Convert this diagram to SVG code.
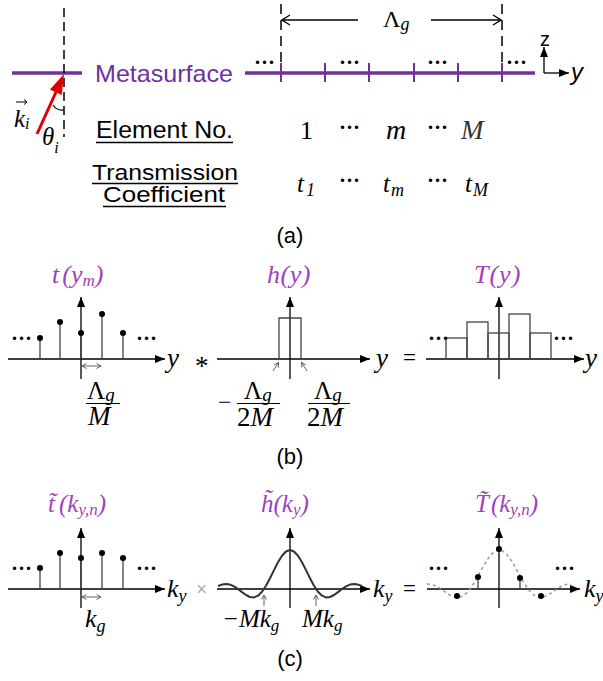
<svg xmlns="http://www.w3.org/2000/svg" width="603" height="681" viewBox="0 0 603 681">
<style>
.ax{stroke:#000;stroke-width:1.3;fill:none}
.st{stroke:#444;stroke-width:1.3}
.dot{fill:#000}
.thin{stroke:#555;stroke-width:0.9;fill:none}
.ms{stroke:#7030a0;fill:none}
.m{font-family:"Liberation Serif","Times New Roman",serif;font-style:italic;fill:#000}
.r{font-family:"Liberation Serif","Times New Roman",serif;fill:#000}
.s{font-family:"Liberation Sans",Arial,sans-serif;fill:#000}
.pl{fill:#a23fbf}
.dd{font-family:"Liberation Serif",serif;font-weight:bold;font-size:21px;fill:#000}
</style>
<defs>
<marker id="ah" markerUnits="userSpaceOnUse" markerWidth="11" markerHeight="8" refX="10" refY="4" orient="auto"><path d="M0,0 L10,4 L0,8 z" fill="#000"/></marker>
<marker id="oh" markerUnits="userSpaceOnUse" markerWidth="10" markerHeight="12" refX="9" refY="6" orient="auto"><path d="M1,1 L9,6 L1,11" fill="none" stroke="#000" stroke-width="1.3"/></marker>
<marker id="sh" markerUnits="userSpaceOnUse" markerWidth="6" markerHeight="6" refX="5" refY="3" orient="auto-start-reverse"><path d="M0.5,0.5 L5,3 L0.5,5.5" fill="none" stroke="#555" stroke-width="0.9"/></marker>
</defs>

<g id="panel-a">
  <line x1="12" y1="73" x2="82" y2="73" class="ms" stroke-width="3.5"/>
  <line x1="64" y1="8" x2="64" y2="137" stroke="#000" stroke-width="1.5" stroke-dasharray="9 5"/>
  <line x1="37" y1="134" x2="56" y2="92" stroke="#e00000" stroke-width="3"/>
  <polygon points="64,74 61.7,94.9 49.9,89.5" fill="#e00000"/>
  <path d="M53,105 Q57,111 64,110" fill="none" stroke="#000" stroke-width="1.2"/>
  <text class="m" x="14" y="127" font-size="25">k<tspan font-size="16" dy="2">i</tspan></text>
  <path d="M16,102 L27,102 M24,99.5 L27,102 L24,104.5" fill="none" stroke="#000" stroke-width="1"/>
  <text class="m" x="42" y="145" font-size="25">θ<tspan font-size="16" dy="8">i</tspan></text>
  <text class="s" x="95" y="82" font-size="24" style="fill:#7030a0" textLength="138" lengthAdjust="spacingAndGlyphs">Metasurface</text>
  <line x1="245" y1="73" x2="535" y2="73" class="ms" stroke-width="3.5"/>
  <path d="M281,63 V82 M325,63 V82 M369,63 V82 M414,63 V82 M458,63 V82 M502,63 V82" class="ms" stroke-width="2"/>
  <line x1="281" y1="4" x2="281" y2="63" stroke="#000" stroke-width="1.5" stroke-dasharray="10 6"/>
  <line x1="502" y1="4" x2="502" y2="63" stroke="#000" stroke-width="1.5" stroke-dasharray="10 6"/>
  <line x1="358" y1="20" x2="282" y2="20" stroke="#000" stroke-width="1.3" marker-end="url(#oh)"/>
  <line x1="431" y1="20" x2="501" y2="20" stroke="#000" stroke-width="1.3" marker-end="url(#oh)"/>
  <text class="r" x="383" y="27" font-size="24">Λ<tspan class="m" font-size="18" dy="3">g</tspan></text>
  <text class="dd" x="254" y="69">···</text>
  <text class="dd" x="339" y="69">···</text>
  <text class="dd" x="427" y="69">···</text>
  <text class="dd" x="506" y="69">···</text>
  <line x1="544" y1="73" x2="544" y2="47" class="ax" stroke-width="1.5" marker-end="url(#ah)"/>
  <line x1="544" y1="73" x2="569" y2="73" class="ax" stroke-width="1.5" marker-end="url(#ah)"/>
  <text class="s" x="545" y="46" font-size="20" text-anchor="middle">z</text>
  <text class="s" x="571" y="80" font-size="24" font-style="italic">y</text>
  <text class="s" x="96" y="138" font-size="23" textLength="137" lengthAdjust="spacingAndGlyphs">Element No.</text>
  <line x1="96" y1="142.5" x2="233" y2="142.5" stroke="#000" stroke-width="1.3"/>
  <text class="s" x="92" y="180" font-size="22" textLength="146" lengthAdjust="spacingAndGlyphs">Transmission</text>
  <line x1="92" y1="183.5" x2="238" y2="183.5" stroke="#000" stroke-width="1.3"/>
  <text class="s" x="103" y="202" font-size="22" textLength="122" lengthAdjust="spacingAndGlyphs">Coefficient</text>
  <line x1="103" y1="206.5" x2="226" y2="206.5" stroke="#000" stroke-width="1.3"/>
  <text class="r" x="300" y="139" font-size="26">1</text>
  <text class="dd" x="339" y="134">···</text>
  <text class="m" x="386" y="139" font-size="28">m</text>
  <text class="dd" x="427" y="134">···</text>
  <text class="m" x="461" y="139" font-size="27" style="fill:#333">M</text>
  <text class="m" x="297" y="192" font-size="25">t<tspan font-size="18" dy="4" dx="2">1</tspan></text>
  <text class="dd" x="339" y="187">···</text>
  <text class="m" x="383" y="192" font-size="25">t<tspan font-size="18" dy="4" dx="1">m</tspan></text>
  <text class="dd" x="427" y="187">···</text>
  <text class="m" x="465" y="192" font-size="25">t<tspan font-size="18" dy="4" dx="1">M</tspan></text>
  <text class="s" x="290" y="243" font-size="22" text-anchor="middle">(a)</text>
</g>

<g id="panel-b">
  <g id="b-samples">
    <line x1="8" y1="359" x2="165" y2="359" class="ax" marker-end="url(#ah)"/>
    <line x1="81" y1="379" x2="81" y2="297" class="ax" marker-end="url(#ah)"/>
    <path d="M40,359 V338 M60,359 V322 M81,359 V333 M102,359 V314 M123,359 V333" class="st"/>
    <circle cx="40" cy="338" r="3" class="dot"/><circle cx="60" cy="322" r="3" class="dot"/><circle cx="81" cy="333" r="3" class="dot"/><circle cx="102" cy="314" r="3" class="dot"/><circle cx="123" cy="333" r="3" class="dot"/>
    <text class="dd" x="11" y="345">···</text>
    <text class="dd" x="136" y="345">···</text>
    <line x1="82" y1="366" x2="101" y2="366" class="thin" marker-start="url(#sh)" marker-end="url(#sh)"/>
    <text class="m pl" x="52" y="283" font-size="26">t<tspan dx="3">(</tspan>y<tspan font-size="17" dy="3">m</tspan><tspan dy="-3">)</tspan></text>
    <text class="m" x="167" y="367" font-size="27">y</text>
    <text class="r" x="87" y="399" font-size="25">Λ<tspan class="m" font-size="19" dy="2">g</tspan></text>
    <line x1="86" y1="403.5" x2="120" y2="403.5" stroke="#000" stroke-width="1.2"/>
    <text class="m" x="88" y="425" font-size="27">M</text>
  </g>
  <text class="r" x="195" y="375" font-size="27">*</text>
  <g id="b-rect">
    <line x1="217" y1="359" x2="370" y2="359" class="ax" marker-end="url(#ah)"/>
    <line x1="290" y1="379" x2="290" y2="297" class="ax" marker-end="url(#ah)"/>
    <path d="M279,359 V318 H301 V359" class="st" fill="none"/>
    <line x1="273" y1="371" x2="278.5" y2="362.5" class="thin" marker-end="url(#sh)"/>
    <line x1="307" y1="371" x2="301.5" y2="362.5" class="thin" marker-end="url(#sh)"/>
    <text class="m pl" x="267" y="283" font-size="26" letter-spacing="0.5">h(y)</text>
    <text class="m" x="376" y="367" font-size="27">y</text>
    <text class="r" x="218" y="410" font-size="24">−</text>
    <text class="r" x="244" y="399" font-size="25">Λ<tspan class="m" font-size="19" dy="2">g</tspan></text>
    <line x1="237" y1="403.5" x2="280" y2="403.5" stroke="#000" stroke-width="1.2"/>
    <text class="r" x="237" y="426" font-size="27">2<tspan class="m">M</tspan></text>
    <text class="r" x="314" y="399" font-size="25">Λ<tspan class="m" font-size="19" dy="2">g</tspan></text>
    <line x1="308" y1="403.5" x2="350" y2="403.5" stroke="#000" stroke-width="1.2"/>
    <text class="r" x="307" y="426" font-size="27">2<tspan class="m">M</tspan></text>
  </g>
  <text class="r" x="403" y="365" font-size="23">=</text>
  <g id="b-stairs">
    <line x1="426" y1="359" x2="584" y2="359" class="ax" marker-end="url(#ah)"/>
    <line x1="499" y1="379" x2="499" y2="297" class="ax" marker-end="url(#ah)"/>
    <g class="st" fill="none">
      <rect x="446" y="338" width="21" height="21"/><rect x="467" y="322" width="21" height="37"/><rect x="488" y="333" width="21" height="26"/><rect x="509" y="314" width="21" height="45"/><rect x="530" y="333" width="21" height="26"/>
    </g>
    <text class="dd" x="428" y="345">···</text>
    <text class="dd" x="553" y="345">···</text>
    <text class="m pl" x="474" y="283" font-size="26" letter-spacing="1">T(y)</text>
    <text class="m" x="585" y="367" font-size="27">y</text>
  </g>
  <text class="s" x="290" y="464" font-size="22" text-anchor="middle">(b)</text>
</g>

<g id="panel-c">
  <g id="c-samples">
    <line x1="8" y1="589" x2="165" y2="589" class="ax" marker-end="url(#ah)"/>
    <line x1="81" y1="608" x2="81" y2="528" class="ax" marker-end="url(#ah)"/>
    <path d="M40,589 V568 M60,589 V553 M81,589 V558 M102,589 V553 M123,589 V558" class="st"/>
    <circle cx="40" cy="568" r="3" class="dot"/><circle cx="60" cy="553" r="3" class="dot"/><circle cx="81" cy="558" r="3" class="dot"/><circle cx="102" cy="553" r="3" class="dot"/><circle cx="123" cy="558" r="3" class="dot"/>
    <text class="dd" x="11" y="575">···</text>
    <text class="dd" x="136" y="575">···</text>
    <line x1="82" y1="597" x2="101" y2="597" class="thin" marker-start="url(#sh)" marker-end="url(#sh)"/>
    <text class="m pl" x="48" y="512" font-size="25">t&#x303;<tspan dx="4">(</tspan>k<tspan font-size="17" dy="3">y,n</tspan><tspan dy="-3">)</tspan></text>
    <text class="m" x="167" y="597" font-size="26">k<tspan font-size="18" dy="5">y</tspan></text>
    <text class="m" x="85" y="627" font-size="26">k<tspan font-size="18" dy="5">g</tspan></text>
  </g>
  <text class="r" x="196" y="596" font-size="20" style="fill:#999">×</text>
  <g id="c-sinc">
    <line x1="217" y1="589" x2="370" y2="589" class="ax" marker-end="url(#ah)"/>
    <line x1="290" y1="608" x2="290" y2="528" class="ax" marker-end="url(#ah)"/>
    <polyline fill="none" stroke="#333" stroke-width="2" stroke-linejoin="round" points="218,586 222,584.6 226,584 230,584.6 234,586.3 238,589 242,592.1 246,595 250,597 254,597.4 258,595.7 262,591.8 266,585.8 270,578.3 274,570.1 278,562.3 282,555.8 286,551.5 290,550 294,551.5 298,555.8 302,562.3 306,570.1 310,578.3 314,585.8 318,591.8 322,595.7 326,597.4 330,597 334,595 338,592.1 342,589 346,586.3 350,584.6 354,584 358,584.6 362,586"/>
    <line x1="264" y1="606" x2="264" y2="595" class="thin" marker-end="url(#sh)"/>
    <line x1="316" y1="606" x2="316" y2="595" class="thin" marker-end="url(#sh)"/>
    <text class="m pl" x="261" y="512" font-size="25">h&#x303;(k<tspan font-size="17" dy="3">y</tspan><tspan dy="-3">)</tspan></text>
    <text class="m" x="373" y="597" font-size="26">k<tspan font-size="18" dy="5">y</tspan></text>
    <text class="m" x="222" y="627" font-size="25"><tspan class="r">−</tspan>Mk<tspan font-size="17" dy="4">g</tspan></text>
    <text class="m" x="302" y="627" font-size="25">Mk<tspan font-size="17" dy="4">g</tspan></text>
  </g>
  <text class="r" x="403" y="596" font-size="23">=</text>
  <g id="c-product">
    <line x1="427" y1="589" x2="580" y2="589" class="ax" marker-end="url(#ah)"/>
    <line x1="499" y1="608" x2="499" y2="528" class="ax" marker-end="url(#ah)"/>
    <polyline fill="none" stroke="#9a9a9a" stroke-width="1.5" stroke-dasharray="3 3" points="427,584 431,584.3 435,585.6 439,587.7 443,590.4 447,593.2 451,595.6 455,597.2 459,597.4 463,595.9 467,592.6 471,587.6 475,581.3 479,574.1 483,566.8 487,560.1 491,554.7 495,551.2 499,550 503,551.2 507,554.7 511,560.1 515,566.8 519,574.1 523,581.3 527,587.6 531,592.6 535,595.9 539,597.4 543,597.2 547,595.6 551,593.2 555,590.4 559,587.7 563,585.6 567,584.3 571,584"/>
    <path d="M478,589 V577 M520,589 V578" class="st"/>
    <circle cx="457" cy="596" r="3" class="dot"/><circle cx="478" cy="577" r="3" class="dot"/><circle cx="499" cy="549" r="3" class="dot"/><circle cx="520" cy="578" r="3" class="dot"/><circle cx="541" cy="596" r="3" class="dot"/>
    <text class="dd" x="428" y="575">···</text>
    <text class="dd" x="554" y="575">···</text>
    <text class="m pl" x="475" y="512" font-size="25">T&#x303;<tspan dx="2">(</tspan>k<tspan font-size="17" dy="3">y,n</tspan><tspan dy="-3">)</tspan></text>
    <text class="m" x="584" y="597" font-size="26">k<tspan font-size="18" dy="5">y</tspan></text>
  </g>
  <text class="s" x="290" y="666" font-size="22" text-anchor="middle">(c)</text>
</g>
</svg>
